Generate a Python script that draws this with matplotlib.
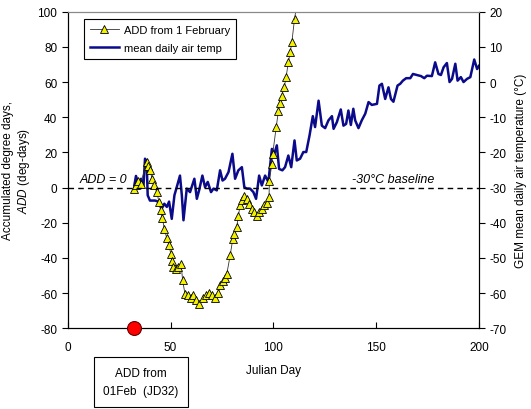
import matplotlib
matplotlib.use("Agg")
from matplotlib import pyplot as plt

plt.rcParams['font.family'] = ['Liberation Sans', 'DejaVu Sans']
plt.rcParams['mathtext.fontset'] = 'custom'
plt.rcParams['mathtext.it'] = 'Liberation Sans:italic'
plt.rcParams['mathtext.rm'] = 'Liberation Sans'
plt.rcParams['axes.unicode_minus'] = False

# GEM mean daily air temperature (deg C) by Julian day
temp_day = [32.4, 33.2, 34.4, 35.7, 36.8, 37.6, 38.4, 38.9, 40.0, 42.5, 44.0, 45.7, 47.0, 48.2,
            49.3, 50.6, 51.9, 53.5, 54.6, 55.5, 56.3, 57.9, 59.5, 61.6, 62.8, 63.9, 65.5, 66.8,
            68.1, 69.7, 70.9, 72.5, 74.1, 75.3, 76.5, 78.2, 80.1, 81.4, 83.0, 84.7, 85.9, 87.1,
            88.7, 90.3, 91.6, 93.1, 94.4, 96.0, 97.6, 99.3, 100.5, 101.7, 102.8, 104.4, 105.7,
            107.3, 108.7, 110.3, 111.4, 113.0, 114.6, 116.0, 117.6, 119.2, 120.3, 122.0, 123.6,
            125.2, 126.8, 128.5, 129.3, 130.9, 132.8, 134.1, 135.4, 136.5, 137.7, 138.9, 139.8,
            141.4, 143.0, 144.7, 146.3, 147.9, 150.4, 151.6, 152.8, 154.4, 156.0, 157.2, 158.4,
            160.4, 161.7, 163.0, 164.6, 166.6, 167.9, 169.8, 171.8, 173.4, 174.7, 177.1, 178.7,
            180.3, 181.5, 182.8, 184.4, 185.7, 186.9, 188.5, 189.6, 191.2, 192.5, 194.2, 195.8,
            197.7, 199.1, 200.0]
temp_val = [-29.4, -26.7, -28.9, -27.5, -30.0, -21.8, -22.7, -32.2, -33.7, -33.7, -34.0, -36.0,
            -34.6, -35.5, -34.0, -38.9, -32.2, -28.9, -26.6, -32.2, -39.3, -30.3, -31.3, -27.5,
            -33.2, -30.8, -26.6, -29.9, -28.4, -31.3, -30.3, -30.8, -25.1, -28.0, -27.5, -25.6,
            -20.4, -27.5, -25.1, -24.2, -29.9, -30.3, -30.3, -31.3, -33.2, -26.6, -29.4, -26.6,
            -28.4, -19.0, -20.4, -18.0, -24.7, -25.1, -24.2, -20.9, -24.2, -16.6, -22.3, -21.8,
            -19.9, -19.9, -15.2, -9.7, -12.8, -5.3, -12.4, -13.1, -10.9, -9.7, -13.3, -11.4,
            -7.8, -12.4, -11.9, -8.1, -12.2, -7.6, -10.9, -13.1, -10.9, -9.0, -5.7, -6.5, -6.2,
            -1.0, -0.5, -4.8, -1.5, -4.8, -5.6, -1.0, -0.5, 0.4, 1.1, 1.1, 2.3, 2.0, 1.7, 1.1,
            1.8, 1.7, 5.6, 2.3, 2.0, 4.2, 5.4, 0.0, 0.9, 5.2, 0.4, 1.4, 0.0, 0.9, 1.4, 6.4, 3.7,
            4.6]

# accumulated degree days from 1 February (-30 C baseline)
add_day = [32.2, 33.2, 34.4, 35.5, 38.4, 39.2, 40.0, 41.1, 42.1, 43.3, 44.4, 45.2, 46.0, 47.0,
           48.1, 49.3, 50.1, 50.6, 51.4, 52.7, 53.8, 55.1, 55.9, 57.0, 58.3, 59.8, 61.1, 62.4,
           64.0, 65.6, 67.3, 68.9, 70.1, 71.7, 73.3, 74.1, 75.4, 76.5, 77.4, 79.0, 80.3, 81.1,
           82.2, 83.0, 83.8, 84.7, 85.8, 87.1, 88.4, 89.5, 90.7, 92.0, 93.2, 94.4, 95.5, 96.8,
           97.9, 98.1, 99.3, 99.7, 101.4, 102.5, 103.0, 104.1, 105.3, 106.2, 107.3, 108.2, 109.0,
           110.3, 111.0]
add_val = [-1.0, 1.2, 4.0, 2.2, 14.5, 12.2, 9.7, 5.0, 1.2, -2.6, -8.2, -13.0, -17.3, -23.4,
           -28.5, -32.9, -37.6, -42.0, -45.1, -46.1, -45.1, -43.3, -52.8, -60.3, -61.3, -62.8,
           -61.3, -64.1, -66.0, -62.8, -60.9, -59.7, -61.3, -62.8, -59.7, -55.6, -53.3, -51.4,
           -49.0, -38.6, -29.1, -26.2, -22.4, -16.2, -10.2, -7.3, -4.8, -6.4, -9.2, -12.0, -13.9,
           -16.2, -13.9, -12.0, -10.2, -8.6, -5.4, 4.0, 13.5, 19.2, 34.4, 43.8, 48.2, 52.3, 57.1,
           62.7, 71.3, 76.9, 82.6, 95.8, 101.0]

start_day = 32
xticks = [0, 50, 100, 150, 200]
add_ticks = list(range(-80, 101, 20))
temp_ticks = list(range(-70, 21, 10))

fig = plt.figure(figsize=(5.31, 4.10), dpi=100)
ax = fig.add_axes([0.1275, 0.197, 0.7745, 0.772])
ax2 = ax.twinx()

ln_t, = ax2.plot(temp_day, temp_val, color='#0a0a8a', lw=1.8, label='mean daily air temp')
ln_a, = ax.plot(add_day[:-1], add_val[:-1], color='#333333', lw=0.6, marker='^', ms=6,
                mfc='#f2f200', mec='black', mew=0.6, label='ADD from 1 February')
ax.plot(add_day[-2:], add_val[-2:], color='#333333', lw=0.6)

ax.set_zorder(ax2.get_zorder() + 1)
ax.patch.set_visible(False)

ax.axhline(0, color='black', lw=1, dashes=(4, 3))
ax.text(6, 1.5, 'ADD = 0', style='italic', fontsize=9, ha='left', va='bottom')
ax.text(178.5, 1.5, '-30\u00b0C baseline', style='italic', fontsize=9, ha='right', va='bottom')

ax.plot([start_day], [-80], 'o', ms=10, mfc='red', mec='#660000', mew=0.8, clip_on=False, zorder=10)

ax.set_xlim(0, 200)
ax.set_ylim(-80, 100)
ax2.set_ylim(-70, 20)
ax.set_xticks(xticks)
ax.set_yticks(add_ticks)
ax2.set_yticks(temp_ticks)

ax.tick_params(axis='x', direction='in', length=4, labelsize=8.5, pad=9)
ax.tick_params(axis='y', direction='out', length=4, labelsize=8.5)
ax2.tick_params(axis='y', direction='out', length=4, labelsize=8.5)
for a in (ax, ax2):
    for s in a.spines.values():
        s.set_linewidth(0.8)
ax.spines['top'].set_color('#888888')
ax2.spines['top'].set_color('#888888')

ax.set_xlabel('Julian Day', fontsize=8.5, labelpad=8)
ax.set_ylabel('Accumulated degree days,\n$ADD$ (deg-days)', fontsize=8.5, labelpad=4)
ax2.set_ylabel('GEM mean daily air temperature (\u00b0C)', fontsize=8.5, labelpad=6)

leg = ax.legend(handles=[ln_a, ln_t], loc='upper left', bbox_to_anchor=(0.025, 0.995),
                fontsize=8, fancybox=False, edgecolor='black', framealpha=1,
                handlelength=2.6, handletextpad=0.5, borderpad=0.55, labelspacing=0.7)
leg.get_frame().set_linewidth(0.8)

fig.text(141 / 531, 1 - 383 / 410, 'ADD from\n01Feb  (JD32)', fontsize=8.5, ha='center',
         va='center', linespacing=1.7,
         bbox=dict(boxstyle='square,pad=0.8', fc='white', ec='black', lw=0.8))

fig.savefig('out.png', dpi=100)
